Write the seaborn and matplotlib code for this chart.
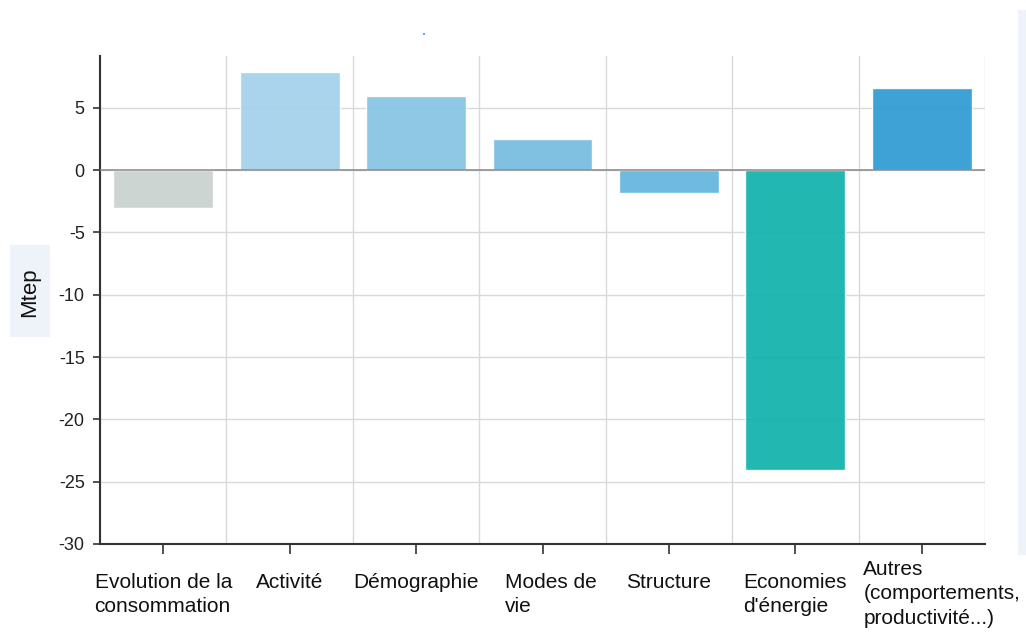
import matplotlib
matplotlib.use("Agg")
import matplotlib.pyplot as plt
import matplotlib.transforms as mtransforms
import seaborn as sns
import pandas as pd
from matplotlib.patches import Rectangle

categories = ["Evolution de la\nconsommation", "Activité", "Démographie", "Modes de\nvie",
              "Structure", "Economies\nd'énergie", "Autres\n(comportements,\nproductivité...)"]
values = [-3.05, 7.85, 5.95, 2.5, -1.85, -24.05, 6.6]
colors = ["#c9d2d0", "#a3d1ea", "#86c4e2", "#75bce0", "#63b5de", "#10b1ab", "#2e9ad3"]
yticks = [5, 0, -5, -10, -15, -20, -25, -30]

sns.set_theme(style="white")
plt.rcParams["font.family"] = ["Liberation Sans", "DejaVu Sans"]

df = pd.DataFrame({"cat": categories, "val": values})

fig = plt.figure(figsize=(10.26, 6.39), dpi=100)
ax = fig.add_axes([100/1026, 1 - 544/639, 885/1026, (544-56)/639])

# grid below bars
for t in yticks:
    ax.axhline(t, color="#d9d9d9", lw=1, zorder=0)
for i in range(len(categories) + 1):
    ax.axvline(i - 0.5, color="#d9d9d9", lw=1, zorder=0)

sns.barplot(data=df, x="cat", y="val", hue="cat", palette=colors, legend=False,
            width=0.79, alpha=0.92, saturation=1, ax=ax, zorder=2)

ax.axhline(0, color="#888888", lw=1.1, zorder=3)

ax.set_ylim(-30, 9.15)
ax.set_xlim(-0.5, len(categories) - 0.5)
ax.set_yticks(yticks)
ax.set_yticklabels([str(t) for t in yticks], fontsize=13, color="#222222")

for s in ["top", "right"]:
    ax.spines[s].set_visible(False)
for s in ["left", "bottom"]:
    ax.spines[s].set_color("#333333")
    ax.spines[s].set_linewidth(1.5)

ax.tick_params(axis="y", direction="out", length=5, width=1.2, color="#333333", left=True, pad=6)
ax.tick_params(axis="x", direction="out", length=7, width=1.2, color="#333333", bottom=True, pad=14)
ax.set_xticks(range(len(categories)))
labels = ax.set_xticklabels(categories, fontsize=15, color="#111111", linespacing=1.35)
for lab in labels:
    lab.set_multialignment("left")
    lab.set_verticalalignment("top")
labels[-1].set_transform(labels[-1].get_transform() +
                         mtransforms.ScaledTranslation(0.2, 0.13, fig.dpi_scale_trans))
labels[3].set_transform(labels[3].get_transform() +
                        mtransforms.ScaledTranslation(0.08, 0, fig.dpi_scale_trans))

ax.set_xlabel("")
ax.set_ylabel("")

# y label with light box
fig.patches.append(Rectangle((10/1026, 1 - 337/639), 40/1026, 92/639,
                             transform=fig.transFigure, fc="#eef3fa", ec="none"))
fig.text(30/1026, 1 - 292/639, "Mtep", rotation=90, ha="center", va="center", fontsize=16,
         color="#111111")

# right light strip
fig.patches.append(Rectangle((1018/1026, 1 - 555/639), 8/1026, 545/639,
                             transform=fig.transFigure, fc="#eef3fa", ec="none"))
fig.patches.append(Rectangle((423/1026, 1 - 35/639), 2/1026, 2/639,
                             transform=fig.transFigure, fc="#6aa6e8", ec="none"))

fig.savefig("out.png", dpi=100)
